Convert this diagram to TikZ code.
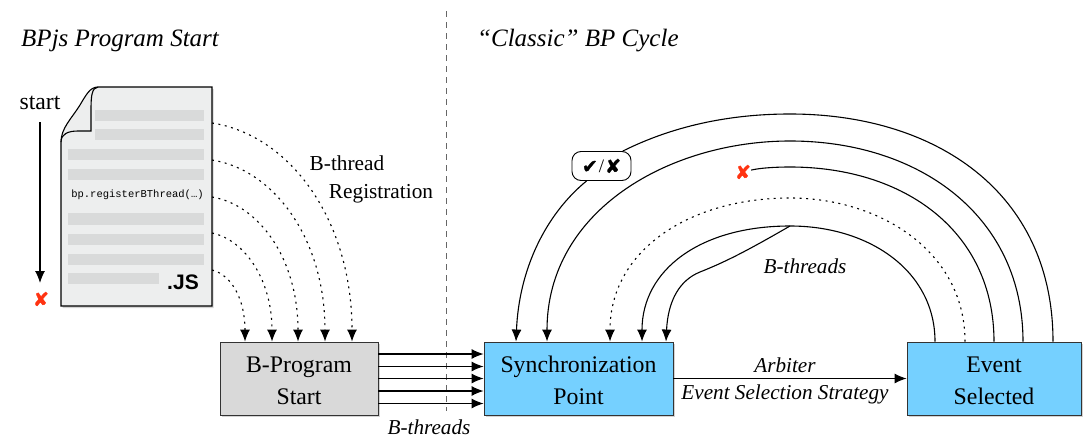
\documentclass[tikz,border=0pt]{standalone}
\usepackage{fontspec}
\setmainfont{Liberation Serif}
\setsansfont{Liberation Sans}
\setmonofont{Liberation Mono}
\newfontfamily\symbfont[RawFeature={embolden=1.5}]{DejaVu Sans}
\usetikzlibrary{calc,positioning,shadows,arrows.meta}
\definecolor{syncblue}{HTML}{75D0FF}
\definecolor{boxgray}{HTML}{D9D9D9}
\definecolor{docgray}{HTML}{EDEEEE}
\definecolor{bargray}{HTML}{D9DADA}
\definecolor{crossred}{HTML}{FF3311}
\newcommand{\crossmark}{{\symbfont\char"2718}}
\newcommand{\tickmark}{{\symbfont\char"2714}}
\newcommand{\topstrut}{\rule{0pt}{21pt}}
\begin{document}
\begin{tikzpicture}[x=1pt,y=-1pt,font=\fontsize{23.8}{26}\selectfont]

        % Setup the styles
        \tikzset{stage/.style={draw=black!80,
                               line width=0.9pt,
                               minimum height=73pt,
                               align=center,
                               inner sep=0pt,
                               drop shadow={shadow xshift=1.5pt,shadow yshift=-2pt,opacity=0.35}},
                 bar/.style={fill=bargray,draw=none},
                 wire/.style={line width=1.1pt,-{Latex[length=12pt,width=10pt]}},
                 dotwire/.style={wire,dash pattern=on 2pt off 4.5pt,line width=1.1pt},
                 redmark/.style={text=crossred,font=\fontsize{19}{19}\selectfont\bfseries,inner sep=0pt},
                 heading/.style={font=\fontsize{25}{28}\selectfont\itshape,anchor=west,inner sep=0pt},
                 note/.style={font=\fontsize{21.2}{24}\selectfont\itshape,inner sep=0pt},
                 plainnote/.style={font=\fontsize{21.3}{24}\selectfont,inner sep=0pt}}

        \useasboundingbox (0,0) rectangle (1084,447);

        % Headings and the divider
        \node[heading] (head1) at (21,41)  {BPjs Program Start};
        \node[heading] (head2) at (477,41) {``Classic'' BP Cycle};
        \draw[dash pattern=on 6pt off 5pt,draw=black!60,line width=0.8pt] (446.5,11) -- (446.5,411);

        % The source file
        \draw[fill=docgray,line width=1.1pt,drop shadow={shadow xshift=1.5pt,shadow yshift=-2pt,opacity=0.35}]
            (61,142) .. controls (61,128) and (72,118) .. (80,105) .. controls (86,95) and (90,87) .. (98,87)
            -- (212,87) -- (212,306) -- (61,306) -- cycle;
        \draw[line width=1.1pt]
            (98,87) .. controls (92,88) and (91,95) .. (91,110) -- (91,131) -- (78,131)
            .. controls (68,131) and (61,134) .. (61,142);
        \fill[bar] (95,110) rectangle (204,121);
        \fill[bar] (95,129) rectangle (204,140);
        \fill[bar] (68,149) rectangle (204,160);
        \fill[bar] (68,169) rectangle (204,180);
        \fill[bar] (68,213) rectangle (204,225);
        \fill[bar] (68,234) rectangle (204,245);
        \fill[bar] (68,254) rectangle (204,265);
        \fill[bar] (68,273) rectangle (159,284);
        \node[font=\fontsize{10.5}{12}\selectfont\ttfamily,inner sep=0pt] (call) at (137.5,195) {bp.registerBThread(…)};
        \node[font=\fontsize{21}{24}\selectfont\sffamily\bfseries,inner sep=0pt] (ext) at (183,282) {.JS};

        % Start of the run
        \node[inner sep=0pt] (start) at (40,103) {start};
        \node[redmark] (stop) at (41,299) {\crossmark};
        \draw[wire] (start) ++(0,19) coordinate (startin) (startin) -- (40,283);

        % The stages
        \node[stage,fill=boxgray,minimum width=158pt] (bstart) at (299,378.5) {\topstrut B-Program\\[6pt]Start};
        \node[stage,fill=syncblue,minimum width=189pt] (sync) at (578.5,378.5) {\topstrut Synchronization\\[6pt]Point};
        \node[stage,fill=syncblue,minimum width=174pt] (event) at (994,378.5) {\topstrut Event\\[6pt]Selected};

        \node[plainnote] (reg1) at (347,163) {B-thread};
        \node[plainnote] (reg2) at (381,194) {Registration};
        \node[note] (bth1) at (429,427) {B-threads};
        \node[note] (bth2) at (805,266) {B-threads};
        \node[note] (arb1) at (785,365) {Arbiter};
        \node[note] (arb2) at (785,394) {Event Selection Strategy};

        \node[draw,fill=white,rounded corners=9pt,line width=0.9pt,minimum width=59pt,minimum height=29pt,
              inner sep=0pt,font=\fontsize{19}{19}\selectfont] (chip) at (601.5,166)
              {\tickmark\kern1pt/\kern1pt\crossmark};
        \node[redmark] (lost) at (743,172) {\crossmark};

        % Registration of the threads
        \coordinate (doc1) at (212,123);
        \coordinate (doc2) at (212,160);
        \coordinate (doc3) at (212,197);
        \coordinate (doc4) at (212,233);
        \coordinate (doc5) at (212,270);
        \draw[dotwire]
            (doc5) .. controls (232,275) and (245,300) .. ([xshift=-54pt]bstart.north);
        \draw[dotwire]
            (doc4) .. controls (245,240) and (272,280) .. ([xshift=-27pt]bstart.north);
        \draw[dotwire]
            (doc3) .. controls (260,205) and (298,260) .. ([xshift=-1pt]bstart.north);
        \draw[dotwire]
            (doc2) .. controls (275,170) and (325,240) .. ([xshift=26pt]bstart.north);
        \draw[dotwire]
            (doc1) .. controls (290,135) and (352,220) .. ([xshift=53pt]bstart.north);

        % Threads handed to the sync point
        \path
            ([yshift=24.5pt]bstart.east) edge[wire] ([yshift=24.5pt]sync.west)
            ([yshift=12pt]bstart.east)   edge[wire] ([yshift=12pt]sync.west)
            (bstart.east)                edge[wire] (sync.west)
            ([yshift=-12.5pt]bstart.east) edge[wire] ([yshift=-12.5pt]sync.west)
            ([yshift=-25pt]bstart.east)  edge[wire] ([yshift=-25pt]sync.west);
        \draw[wire] (sync.east) -- (event.west);

        % The cycle
        \coordinate (apex1) at (790,114);
        \coordinate (apex2) at (790,141);
        \coordinate (apex3) at (790,167);
        \coordinate (apex4) at (790,198);
        \coordinate (apex5) at (790,226);
        \draw[line width=1.1pt] ([xshift=59pt]event.north) .. controls +(0,-150) and (935,114) .. (apex1)
            .. controls (720,114) and (665,130) .. (chip.35);
        \draw[wire] (chip.-135) .. controls (545,215) and (519,270) .. ([xshift=-62.5pt]sync.north);
        \draw[wire] ([xshift=29pt]event.north) .. controls +(0,-125) and (920,141) .. (apex2)
            .. controls (670,141) and (547,210) .. ([xshift=-31.5pt]sync.north);
        \draw[line width=1.1pt] (event.north) .. controls +(0,-110) and (905,167) .. (apex3)
            .. controls (775,167) and (760,168) .. (lost);
        \draw[dotwire] ([xshift=-29pt]event.north) .. controls +(0,-90) and (880,198) .. (apex4)
            .. controls (690,198) and (610,250) .. ([xshift=31.5pt]sync.north);
        \draw[wire] ([xshift=-59pt]event.north) .. controls +(0,-70) and (870,226) .. (apex5)
            .. controls (700,226) and (642,270) .. ([xshift=63.5pt]sync.north);
        \draw[wire] (apex5) .. controls (745,252) and (725,262) .. (700,272)
            .. controls (680,280) and (668,300) .. ([xshift=87.5pt]sync.north);
\end{tikzpicture}
\end{document}
